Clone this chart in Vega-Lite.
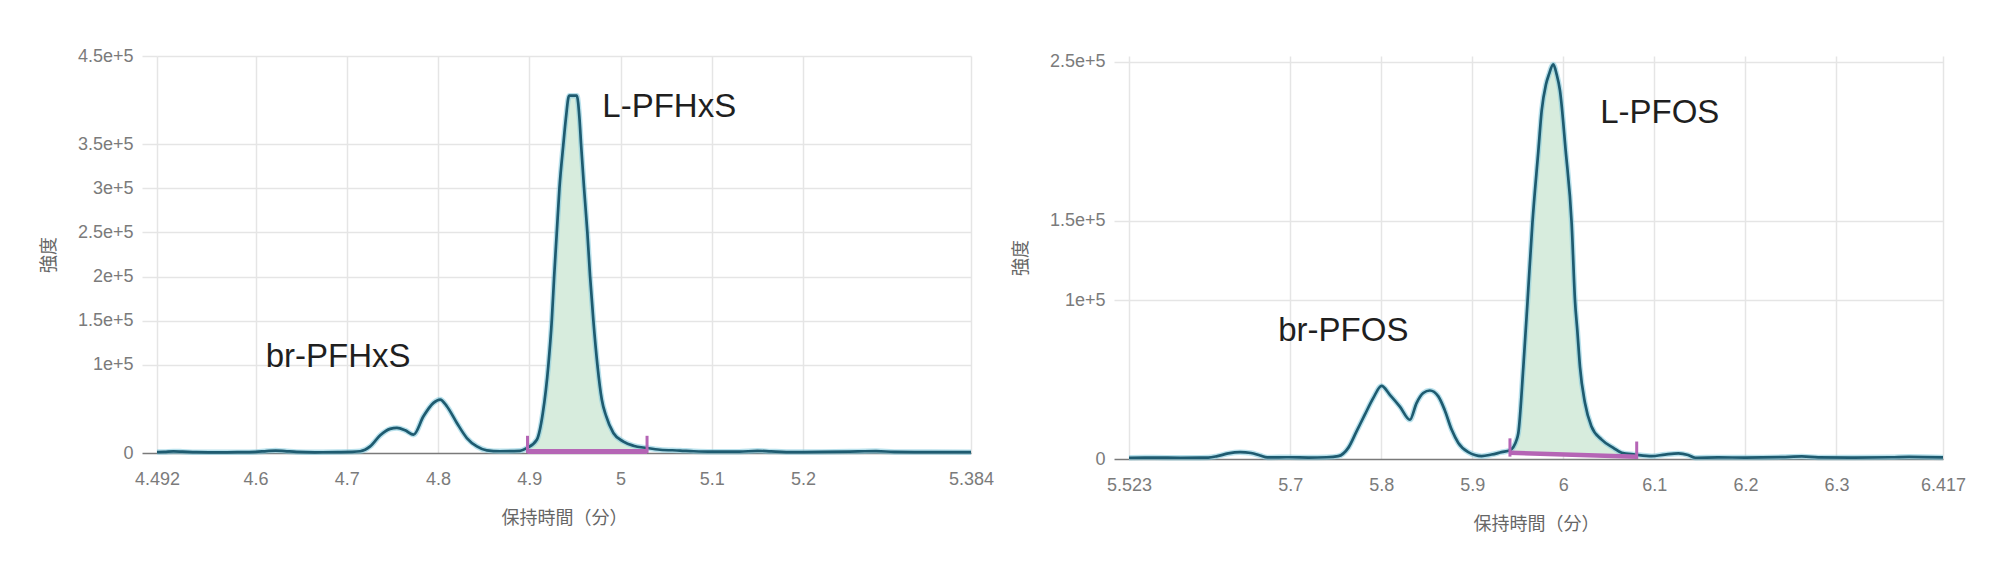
{
  "$schema": "https://vega.github.io/schema/vega-lite/v6.json",
  "background": "white",
  "padding": {"left": 40, "top": 47, "right": 5, "bottom": 5},
  "spacing": 18,
  "config": {
    "view": {"stroke": null},
    "font": "Liberation Sans",
    "axis": {
      "labelFont": "Liberation Sans", "labelFontSize": 18, "labelColor": "#7b7b7b",
      "titleFont": "Noto Sans CJK JP", "titleFontSize": 18, "titleFontWeight": "normal", "titleColor": "#666666",
      "domain": false, "gridColor": "#e5e5e5", "gridWidth": 1.5, "labelFlush": false, "labelOverlap": false
    }
  },
  "datasets": {
    "pfhxs": [
      {"t":4.492,"v":1000},{"t":4.5,"v":1200},{"t":4.51,"v":1800},{"t":4.52,"v":1500},{"t":4.535,"v":900},
      {"t":4.56,"v":800},{"t":4.58,"v":900},{"t":4.6,"v":1200},{"t":4.612,"v":2200},{"t":4.622,"v":2800},
      {"t":4.632,"v":2200},{"t":4.645,"v":1200},{"t":4.665,"v":800},{"t":4.69,"v":1000},{"t":4.705,"v":1300},
      {"t":4.7147,"v":2000},{"t":4.7256,"v":7500},{"t":4.7366,"v":20000},{"t":4.7475,"v":27300},{"t":4.7549,"v":28400},
      {"t":4.764,"v":25700},{"t":4.7731,"v":20800},{"t":4.784,"v":41600},{"t":4.795,"v":56800},{"t":4.8023,"v":60600},
      {"t":4.8096,"v":53000},{"t":4.8206,"v":34000},{"t":4.8315,"v":17000},{"t":4.8425,"v":7500},{"t":4.8534,"v":3000},
      {"t":4.868,"v":2000},{"t":4.8899,"v":2500},{"t":4.8973,"v":5600},{"t":4.9082,"v":15000},{"t":4.9148,"v":45300},
      {"t":4.9209,"v":100000},{"t":4.9246,"v":150000},{"t":4.9272,"v":200000},{"t":4.9301,"v":250000},{"t":4.933,"v":300000},
      {"t":4.9373,"v":350000},{"t":4.94,"v":378800},{"t":4.9436,"v":405000},{"t":4.952,"v":405000},{"t":4.955,"v":378800},
      {"t":4.9567,"v":350000},{"t":4.96,"v":300000},{"t":4.9636,"v":250000},{"t":4.9666,"v":200000},{"t":4.9702,"v":150000},
      {"t":4.9746,"v":100000},{"t":4.9794,"v":60600},{"t":4.9841,"v":42000},{"t":4.9921,"v":22700},{"t":5.0031,"v":13000},
      {"t":5.014,"v":8300},{"t":5.0287,"v":5700},{"t":5.0433,"v":3700},{"t":5.0652,"v":2800},{"t":5.08,"v":2000},
      {"t":5.1,"v":1500},{"t":5.13,"v":1500},{"t":5.15,"v":2500},{"t":5.165,"v":1800},{"t":5.19,"v":1000},
      {"t":5.22,"v":1200},{"t":5.26,"v":1800},{"t":5.28,"v":2200},{"t":5.3,"v":1200},{"t":5.34,"v":1000},{"t":5.384,"v":900}
    ],
    "pfhxs_base": [{"t":4.898,"v":1800,"t2":5.029,"v2":1800}],
    "pfhxs_ticks": [{"t":4.898,"v":0,"v2":19500},{"t":5.029,"v":0,"v2":19500}],
    "pfhxs_labels": [{"t":4.6904,"v":109000,"label":"br-PFHxS"},{"t":5.0533,"v":392000,"label":"L-PFHxS"}],
    "pfos": [
      {"t":5.523,"v":800},{"t":5.55,"v":900},{"t":5.58,"v":800},{"t":5.61,"v":900},{"t":5.62,"v":1800},
      {"t":5.632,"v":3500},{"t":5.645,"v":4300},{"t":5.657,"v":3800},{"t":5.667,"v":2200},{"t":5.675,"v":1000},
      {"t":5.7,"v":1100},{"t":5.72,"v":900},{"t":5.74,"v":1100},{"t":5.7528,"v":1800},{"t":5.7638,"v":7000},
      {"t":5.7729,"v":17400},{"t":5.782,"v":27900},{"t":5.7912,"v":38300},{"t":5.8004,"v":46000},{"t":5.8095,"v":40400},
      {"t":5.8205,"v":33000},{"t":5.8315,"v":24700},{"t":5.8388,"v":35200},{"t":5.8462,"v":41500},{"t":5.8534,"v":43100},
      {"t":5.8627,"v":39400},{"t":5.8696,"v":31000},{"t":5.8773,"v":18500},{"t":5.8847,"v":10100},{"t":5.8956,"v":4300},
      {"t":5.9103,"v":1800},{"t":5.9212,"v":2800},{"t":5.9322,"v":4300},{"t":5.9414,"v":5500},{"t":5.9487,"v":12000},
      {"t":5.9506,"v":16400},{"t":5.9561,"v":58000},{"t":5.9608,"v":100000},{"t":5.966,"v":148000},{"t":5.9726,"v":194000},
      {"t":5.9762,"v":219000},{"t":5.9809,"v":235700},{"t":5.9842,"v":242000},{"t":5.989,"v":248300},{"t":5.9927,"v":242000},
      {"t":5.9963,"v":232000},{"t":6.0026,"v":194000},{"t":6.0092,"v":148000},{"t":6.0128,"v":100000},{"t":6.0155,"v":80000},
      {"t":6.0183,"v":58000},{"t":6.0238,"v":35200},{"t":6.0308,"v":20600},{"t":6.0421,"v":12200},{"t":6.055,"v":7000},
      {"t":6.0641,"v":3900},{"t":6.0787,"v":2800},{"t":6.0971,"v":1800},{"t":6.1117,"v":2800},{"t":6.1264,"v":3500},
      {"t":6.137,"v":2500},{"t":6.145,"v":800},{"t":6.17,"v":1000},{"t":6.2,"v":900},{"t":6.24,"v":1200},
      {"t":6.262,"v":1600},{"t":6.28,"v":1000},{"t":6.32,"v":900},{"t":6.36,"v":1100},{"t":6.38,"v":1400},{"t":6.417,"v":1000}
    ],
    "pfos_base": [{"t":5.9414,"v":3900,"t2":6.0806,"v2":1400}],
    "pfos_ticks": [{"t":5.9414,"v":1500,"v2":13000},{"t":6.0806,"v":0,"v2":11000}],
    "pfos_labels": [{"t":5.7584,"v":80500,"label":"br-PFOS"},{"t":6.1059,"v":218000,"label":"L-PFOS"}]
  },
  "hconcat": [
    {
      "width": 814,
      "height": 397,
      "encoding": {
        "x": {"field": "t", "type": "quantitative",
          "scale": {"domain": [4.492, 5.384], "nice": false, "zero": false},
          "axis": {"title": "保持時間（分）", "values": [4.492, 4.6, 4.7, 4.8, 4.9, 5, 5.1, 5.2, 5.384], "format": ".3~f",
            "grid": true, "ticks": false, "tickSize": 0, "labelPadding": 17, "titlePadding": 21}},
        "y": {"field": "v", "type": "quantitative",
          "scale": {"domain": [0, 450000], "nice": false},
          "axis": {"title": "強度", "values": [0, 100000, 150000, 200000, 250000, 300000, 350000, 450000],
            "labelExpr": "datum.value === 0 ? '0' : format(datum.value, '.2~e')",
            "grid": true, "ticks": true, "tickSize": 15, "labelPadding": 9, "titlePadding": 19,
            "gridColor": {"condition": {"test": "datum.value === 0", "value": "#7a7a7a"}, "value": "#e5e5e5"},
            "tickColor": {"condition": {"test": "datum.value === 0", "value": "#7a7a7a"}, "value": "#e5e5e5"},
            "tickWidth": 1.5}}
      },
      "layer": [
        {
          "data": {"name": "pfhxs"},
          "transform": [{"filter": "datum.t >= 4.897 && datum.t <= 5.029"}],
          "mark": {"type": "area", "color": "#d7ecdd", "interpolate": "monotone"},
          "encoding": {"y2": {"datum": 1800}}
        },
        {
          "data": {"name": "pfhxs"},
          "mark": {"type": "line", "color": "#7fc9dc", "strokeWidth": 5.5, "opacity": 0.55, "interpolate": "monotone"}
        },
        {
          "data": {"name": "pfhxs"},
          "mark": {"type": "line", "color": "#1e5b70", "strokeWidth": 2.7, "interpolate": "monotone"}
        },
        {
          "data": {"name": "pfhxs_base"},
          "mark": {"type": "rule", "color": "#b565b5", "strokeWidth": 5},
          "encoding": {"x2": {"field": "t2"}, "y2": {"field": "v2"}}
        },
        {
          "data": {"name": "pfhxs_ticks"},
          "mark": {"type": "rule", "color": "#b565b5", "strokeWidth": 3},
          "encoding": {"y2": {"field": "v2"}}
        },
        {
          "data": {"name": "pfhxs_labels"},
          "mark": {"type": "text", "font": "Liberation Sans", "fontSize": 33, "color": "#1f1f1f", "align": "center", "baseline": "middle"},
          "encoding": {"text": {"field": "label"}}
        }
      ]
    },
    {
      "width": 814,
      "height": 403,
      "encoding": {
        "x": {"field": "t", "type": "quantitative",
          "scale": {"domain": [5.523, 6.417], "nice": false, "zero": false},
          "axis": {"title": "保持時間（分）", "values": [5.523, 5.7, 5.8, 5.9, 6, 6.1, 6.2, 6.3, 6.417], "format": ".3~f",
            "grid": true, "ticks": false, "tickSize": 0, "labelPadding": 17, "titlePadding": 21}},
        "y": {"field": "v", "type": "quantitative",
          "scale": {"domain": [0, 253600], "nice": false},
          "axis": {"title": "強度", "values": [0, 100000, 150000, 250000],
            "labelExpr": "datum.value === 0 ? '0' : format(datum.value, '.2~e')",
            "grid": true, "ticks": true, "tickSize": 15, "labelPadding": 9, "titlePadding": 19,
            "gridColor": {"condition": {"test": "datum.value === 0", "value": "#7a7a7a"}, "value": "#e5e5e5"},
            "tickColor": {"condition": {"test": "datum.value === 0", "value": "#7a7a7a"}, "value": "#e5e5e5"},
            "tickWidth": 1.5}}
      },
      "layer": [
        {
          "data": {"name": "pfos"},
          "transform": [{"filter": "datum.t >= 5.9414 && datum.t <= 6.0806"}],
          "mark": {"type": "area", "color": "#d7ecdd", "interpolate": "monotone"},
          "encoding": {"y2": {"datum": 2700}}
        },
        {
          "data": {"name": "pfos"},
          "mark": {"type": "line", "color": "#7fc9dc", "strokeWidth": 5.5, "opacity": 0.55, "interpolate": "monotone"}
        },
        {
          "data": {"name": "pfos"},
          "mark": {"type": "line", "color": "#1e5b70", "strokeWidth": 2.7, "interpolate": "monotone"}
        },
        {
          "data": {"name": "pfos_base"},
          "mark": {"type": "rule", "color": "#b565b5", "strokeWidth": 4.5},
          "encoding": {"x2": {"field": "t2"}, "y2": {"field": "v2"}}
        },
        {
          "data": {"name": "pfos_ticks"},
          "mark": {"type": "rule", "color": "#b565b5", "strokeWidth": 3},
          "encoding": {"y2": {"field": "v2"}}
        },
        {
          "data": {"name": "pfos_labels"},
          "mark": {"type": "text", "font": "Liberation Sans", "fontSize": 33, "color": "#1f1f1f", "align": "center", "baseline": "middle"},
          "encoding": {"text": {"field": "label"}}
        }
      ]
    }
  ]
}
